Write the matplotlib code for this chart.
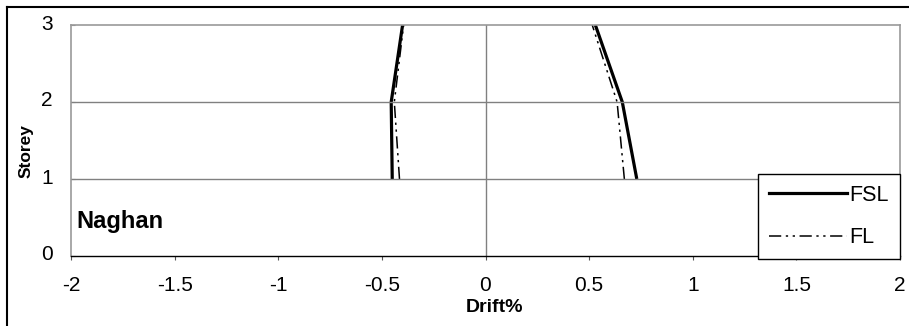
import matplotlib.pyplot as plt
import matplotlib.transforms as mtransforms
from matplotlib.lines import Line2D

plt.rcParams['font.family'] = ['Liberation Sans', 'DejaVu Sans']

storeys = [1, 2, 3]
fsl_neg = [-0.45, -0.455, -0.40]
fsl_pos = [0.73, 0.66, 0.53]
fl_neg = [-0.415, -0.44, -0.395]
fl_pos = [0.67, 0.635, 0.515]

x_ticks = [-2, -1.5, -1, -0.5, 0, 0.5, 1, 1.5, 2]
x_labels = ['-2', '-1.5', '-1', '-0.5', '0', '0.5', '1', '1.5', '2']
y_ticks = [0, 1, 2, 3]

fl_dash = (0, (8, 3, 1.5, 3, 1.5, 3))

fig = plt.figure(figsize=(9.09, 3.26), dpi=100)
ax = fig.add_axes([71 / 909, 1 - 256 / 326, 829 / 909, 231 / 326])

ax.plot(fsl_neg, storeys, color='black', lw=2.3, solid_capstyle='butt')
ax.plot(fsl_pos, storeys, color='black', lw=2.3, solid_capstyle='butt')
ax.plot(fl_neg, storeys, color='black', lw=1.1, linestyle=fl_dash)
ax.plot(fl_pos, storeys, color='black', lw=1.1, linestyle=fl_dash)

ax.set_xlim(-2, 2)
ax.set_ylim(0, 3)
ax.set_xticks(x_ticks)
ax.set_xticklabels(x_labels)
ax.set_yticks(y_ticks)
ax.tick_params(axis='both', labelsize=15, colors='black')
ax.tick_params(axis='x', direction='out', length=3, color='#555555', pad=11.5)
ax.tick_params(axis='y', direction='in', length=3, color='#888888', pad=13)

# y tick labels sit a little above their gridlines in the original
shift = mtransforms.ScaledTranslation(0, 3 / 100, fig.dpi_scale_trans)
for lab in ax.get_yticklabels():
    lab.set_transform(lab.get_transform() + shift)

ax.axvline(0, color='#808080', lw=1)
for yy in [1, 2]:
    ax.axhline(yy, color='#808080', lw=1)

for side in ['left', 'top', 'right']:
    ax.spines[side].set_color('#999999')
    ax.spines[side].set_linewidth(1.2)
ax.spines['bottom'].set_color('black')
ax.spines['bottom'].set_linewidth(1)

ax.set_xlabel('Drift%', fontsize=14, fontweight='bold')
ax.xaxis.set_label_coords((494 - 71) / 829, (256 - 299) / 231)
ax.set_ylabel('Storey', fontsize=12.5, fontweight='bold')
ax.yaxis.set_label_coords((34 - 71) / 829, (256 - 151) / 231)

ax.text(0.007, 0.121, 'Naghan', transform=ax.transAxes,
        fontsize=17, fontweight='bold', va='baseline', ha='left')

handles = [Line2D([], [], color='black', lw=2.3),
           Line2D([], [], color='black', lw=1.1, linestyle=fl_dash)]
leg = ax.legend(handles, ['FSL', 'FL'], loc='lower right',
                bbox_to_anchor=(1.0, -0.013), borderaxespad=0,
                fontsize=15.5, frameon=True, fancybox=False,
                handlelength=3.6, handletextpad=0.15, labelspacing=1.0,
                borderpad=0.5)
leg.get_frame().set_edgecolor('black')
leg.get_frame().set_linewidth(1)
leg.get_frame().set_alpha(1)

# outer chart frame
fig.add_artist(Line2D([7 / 909, 1], [1 - 7 / 326, 1 - 7 / 326],
                      transform=fig.transFigure, color='black', lw=1.5))
fig.add_artist(Line2D([7 / 909, 7 / 909], [0, 1 - 7 / 326],
                      transform=fig.transFigure, color='black', lw=1.5))

fig.savefig('out.png', dpi=100)
